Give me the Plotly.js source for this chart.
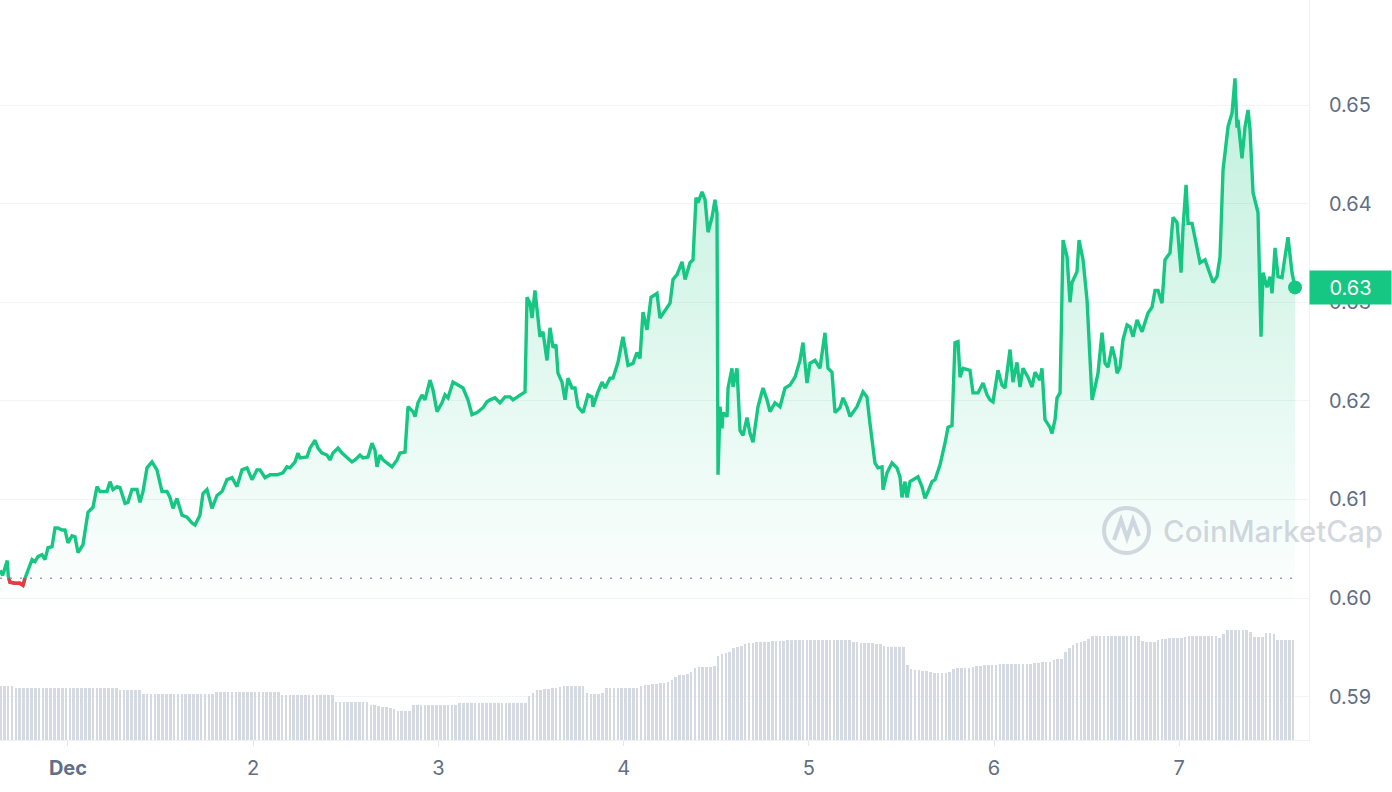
<!DOCTYPE html>
<html>
<head>
<meta charset="utf-8">
<script src="https://cdn.plot.ly/plotly-3.0.1.min.js"></script>
<style>html,body{margin:0;padding:0;background:#fff;}#chart{width:1392px;height:792px;}</style>
</head>
<body>
<div id="chart"></div>
<script>
// hours since 2022-12-01 00:00 (UTC)
const hours = [
-8.81,-8.46,-7.87,-7.74,-7.52,-6.87,-6.22,-5.83,-5.57,-5.18,
-4.66,-4.28,-3.89,-3.37,-2.98,-2.59,-2.07,-1.68,-1.30,-0.78,
-0.39,0,0.52,0.91,1.30,1.94,2.59,3.24,3.76,4.15,
5.05,5.44,5.83,6.35,6.74,7.39,7.77,8.29,8.94,9.33,
9.72,10.24,10.88,11.53,12.18,12.83,13.22,13.61,14.12,14.77,
15.42,16.07,16.46,17.10,17.49,18.01,18.66,19.31,19.96,20.60,
21.25,21.90,22.55,23.20,23.84,24.49,24.88,25.53,26.18,27.08,
27.86,28.38,28.77,29.42,29.80,30.06,30.97,31.36,32.01,32.40,
32.91,33.56,33.95,34.34,34.99,35.51,36.15,36.80,37.19,37.84,
38.23,38.87,39.39,39.78,40.04,40.43,40.82,41.34,41.98,42.63,
43.02,43.67,44.06,44.71,44.97,45.35,45.87,46.26,46.91,47.30,
47.82,48.46,48.85,49.24,49.89,50.54,51.19,51.83,52.35,53.00,
53.78,54.29,54.68,55.33,55.98,56.63,57.27,57.66,58.57,59.22,
59.48,59.87,60.13,60.51,60.90,61.16,61.55,62.07,62.46,62.85,
63.23,63.49,64.01,64.40,64.79,65.31,65.70,66.09,66.74,67.38,
67.90,68.03,68.68,69.20,69.59,70.23,70.62,71.27,71.79,71.92,
72.57,73.21,73.73,74.12,74.51,75.03,75.55,76.32,76.71,77.36,
78.01,78.40,78.92,79.57,79.96,80.60,80.99,81.38,81.64,82.16,
82.55,82.94,83.45,83.84,84.10,84.23,84.49,84.75,84.88,85.40,
85.53,86.04,86.17,86.69,87.08,87.47,87.99,88.38,88.76,89.41,
90.06,90.58,90.97,91.61,92.26,92.91,93.56,94.21,94.85,95.24,
95.76,96.15,96.80,97.44,98.09,98.48,99.00,99.39,100.04,100.43,
100.94,101.33,102.24,103.02,103.53,103.92,104.57,104.96,105.48,105.61,
106.13,106.77,107.42,107.81,108.07,108.46,108.72,109.11,109.50,110.14,
110.66,111.05,111.44,111.96,112.35,113.00,113.64,114.03,114.55,114.94,
115.33,115.59,115.98,116.88,117.27,117.92,118.57,119.09,119.47,119.86,
120.51,121.03,121.42,122.07,122.45,122.97,123.36,123.75,124.40,124.92,
125.30,125.95,126.21,126.60,127.25,127.51,127.90,128.16,128.55,128.94,
129.46,129.84,130.10,130.75,131.01,131.53,132.05,132.44,132.70,133.09,
133.47,133.99,134.38,134.77,135.29,135.68,135.94,136.32,136.71,137.23,
137.62,138.01,138.53,139.17,139.56,139.95,140.47,140.86,141.25,141.76,
142.15,142.80,143.19,143.71,144.23,144.49,144.88,145.14,145.66,146.30,
146.69,147.34,147.99,148.38,148.89,149.28,149.67,150.32,150.84,151.22,
151.48,151.61,152.13,152.52,152.91,153.17,153.56,154.07,154.20,154.59,
154.85,155.37,155.76,156.02,156.41,156.80,157.31,157.70,158.09,158.61,
159.00];

const prices = [
0.6028,0.6023,0.6038,0.6022,0.6016,0.6015,0.6015,0.6013,0.6020,0.6028,
0.6039,0.6037,0.6042,0.6044,0.6039,0.6051,0.6052,0.6071,0.6071,0.6069,
0.6069,0.6056,0.6063,0.6062,0.6046,0.6054,0.6087,0.6092,0.6113,0.6108,
0.6108,0.6118,0.6110,0.6113,0.6112,0.6096,0.6097,0.6110,0.6110,0.6097,
0.6108,0.6132,0.6138,0.6130,0.6108,0.6108,0.6102,0.6091,0.6101,0.6084,
0.6082,0.6076,0.6074,0.6084,0.6106,0.6110,0.6091,0.6104,0.6108,0.6120,
0.6122,0.6113,0.6130,0.6132,0.6120,0.6130,0.6130,0.6122,0.6125,0.6125,
0.6127,0.6133,0.6132,0.6138,0.6147,0.6142,0.6143,0.6152,0.6160,0.6152,
0.6147,0.6145,0.6140,0.6147,0.6152,0.6147,0.6142,0.6138,0.6140,0.6145,
0.6142,0.6143,0.6157,0.6150,0.6133,0.6145,0.6140,0.6137,0.6133,0.6140,
0.6147,0.6148,0.6194,0.6189,0.6184,0.6198,0.6206,0.6201,0.6221,0.6211,
0.6189,0.6198,0.6206,0.6203,0.6219,0.6216,0.6213,0.6201,0.6186,0.6188,
0.6193,0.6199,0.6201,0.6203,0.6198,0.6204,0.6204,0.6201,0.6206,0.6209,
0.6305,0.6299,0.6284,0.6312,0.6284,0.6265,0.6270,0.6241,0.6274,0.6254,
0.6257,0.6228,0.6219,0.6201,0.6223,0.6213,0.6213,0.6194,0.6188,0.6206,
0.6204,0.6194,0.6209,0.6219,0.6213,0.6223,0.6223,0.6239,0.6260,0.6265,
0.6236,0.6238,0.6249,0.6243,0.6290,0.6272,0.6305,0.6309,0.6284,0.6292,
0.6299,0.6323,0.6328,0.6341,0.6323,0.6340,0.6343,0.6406,0.6401,0.6412,
0.6404,0.6371,0.6386,0.6404,0.6390,0.6125,0.6194,0.6172,0.6188,0.6184,
0.6213,0.6233,0.6214,0.6233,0.6170,0.6165,0.6183,0.6167,0.6158,0.6194,
0.6213,0.6201,0.6189,0.6198,0.6194,0.6213,0.6216,0.6224,0.6241,0.6259,
0.6218,0.6238,0.6241,0.6233,0.6269,0.6233,0.6229,0.6188,0.6193,0.6203,
0.6194,0.6184,0.6194,0.6209,0.6204,0.6177,0.6137,0.6132,0.6133,0.6110,
0.6127,0.6137,0.6132,0.6123,0.6102,0.6118,0.6102,0.6118,0.6120,0.6123,
0.6113,0.6101,0.6108,0.6118,0.6120,0.6135,0.6157,0.6173,0.6175,0.6259,
0.6260,0.6224,0.6233,0.6231,0.6208,0.6208,0.6218,0.6206,0.6201,0.6199,
0.6231,0.6216,0.6213,0.6252,0.6219,0.6239,0.6214,0.6233,0.6224,0.6214,
0.6229,0.6221,0.6233,0.6181,0.6173,0.6167,0.6181,0.6203,0.6208,0.6363,
0.6346,0.6300,0.6320,0.6331,0.6363,0.6343,0.6302,0.6244,0.6201,0.6214,
0.6228,0.6269,0.6238,0.6234,0.6255,0.6243,0.6228,0.6234,0.6262,0.6277,
0.6275,0.6265,0.6282,0.6270,0.6279,0.6289,0.6295,0.6312,0.6312,0.6299,
0.6343,0.6350,0.6386,0.6381,0.6330,0.6376,0.6419,0.6380,0.6380,0.6356,
0.6340,0.6343,0.6330,0.6320,0.6326,0.6346,0.6434,0.6478,0.6492,0.6527,
0.6477,0.6485,0.6446,0.6478,0.6495,0.6475,0.6411,0.6394,0.6391,0.6265,
0.6330,0.6315,0.6326,0.6309,0.6355,0.6326,0.6325,0.6346,0.6366,0.6330,
0.6315];

// 24h volume (millions), one value per 30-minute bar starting at -8.75 h
const volStartHour = -8.75;
const volStepHour = 0.5;
const volumes = [
540,540,540,540,
520,520,520,520,520,520,520,520,520,520,520,520,520,520,520,520,520,520,520,520,520,520,520,520,520,520,520,
500,500,500,500,500,500,
460,460,460,460,460,460,460,460,460,460,460,460,460,460,460,460,460,460,460,
480,480,480,480,480,480,480,480,480,480,480,480,480,480,480,480,480,
450,450,450,450,450,450,450,450,450,450,450,450,450,450,
380,380,380,380,380,380,380,380,380,
350,350,340,330,330,320,310,
290,290,290,290,
350,350,350,350,350,350,350,350,350,350,350,350,
370,370,370,370,370,370,370,370,370,370,370,370,370,370,370,370,370,370,
440,470,
500,500,510,510,520,520,530,
540,540,540,540,540,540,
470,460,460,460,470,
520,520,520,520,520,520,520,520,520,
540,550,550,560,560,570,570,580,600,
630,650,650,660,680,
720,730,730,730,730,740,
840,860,870,880,
920,930,940,960,
970,970,980,980,980,980,990,990,990,990,
1000,1000,1000,1000,1000,1000,1000,1000,1000,1000,1000,1000,1000,1000,1000,1000,1000,
980,980,970,970,970,970,960,960,
940,930,930,930,930,
930,
750,
710,700,700,690,690,
680,670,670,670,670,680,
710,720,720,720,720,730,
740,740,750,750,750,750,760,760,760,760,760,760,760,760,760,770,770,
780,780,780,
800,810,810,
880,
920,950,970,980,990,
1010,
1040,1040,1040,1040,1040,1040,1040,1040,1040,1040,1040,1040,1040,
990,980,980,980,
1000,1010,1010,1020,1020,1020,1020,1030,
1040,1040,1040,1040,1040,1040,1040,1040,
1020,
1060,
1100,1100,1100,1100,1100,1100,
1080,
1030,1030,1030,
1070,1070,1060,
1000,1000,1000,1000,1000];

const refPrice = 0.6020;
const yTicks = [0.59, 0.60, 0.61, 0.62, 0.63, 0.64, 0.65];
const xTickDays = [0, 1, 2, 3, 4, 5, 6];
const xTickLabels = ['<b>Dec</b>', '2', '3', '4', '5', '6', '7'];
const lastLabel = '0.63';

const BASE = Date.UTC(2022, 11, 1);
function d(h) { return new Date(BASE + h * 3600e3).toISOString().replace('T', ' ').slice(0, 19); }

const xs = hours.map(d);
const volX = volumes.map((v, k) => d(volStartHour + k * volStepHour));

// red segment (below reference price), with interpolated crossings
const rx = [], ry = [];
for (let i = 0; i < prices.length; i++) {
  const below = prices[i] < refPrice;
  if (i > 0) {
    const pb = prices[i - 1] < refPrice;
    if (pb !== below) {
      const f = (refPrice - prices[i - 1]) / (prices[i] - prices[i - 1]);
      const hc = hours[i - 1] + f * (hours[i] - hours[i - 1]);
      rx.push(d(hc)); ry.push(refPrice);
      if (!below) { rx.push(null); ry.push(null); }
    }
  }
  if (below) { rx.push(xs[i]); ry.push(prices[i]); }
}

const GREEN = '#16c784';
const RED = '#ea3943';
const TXT = '#616e85';
const FONT = 'Inter, "Noto Sans", sans-serif';

const traces = [
  {
    x: xs, y: prices, type: 'scatter', mode: 'lines',
    line: { color: GREEN, width: 3.4 },
    fill: 'tozeroy',
    fillgradient: { type: 'vertical', start: 0.598, stop: 0.653,
      colorscale: [[0, 'rgba(22,199,132,0)'], [1, 'rgba(22,199,132,0.27)']] },
    hoverinfo: 'skip'
  },
  {
    x: rx, y: ry, type: 'scatter', mode: 'lines',
    line: { color: RED, width: 3.4 }, connectgaps: false, hoverinfo: 'skip'
  },
  {
    x: [xs[xs.length - 1]], y: [prices[prices.length - 1]], type: 'scatter', mode: 'markers',
    marker: { color: GREEN, size: 14 }, hoverinfo: 'skip'
  },
  {
    x: volX, y: volumes, type: 'bar', yaxis: 'y2',
    width: volStepHour * 3600e3 * 0.68,
    marker: { color: '#d4d9e2', line: { width: 0 } }, hoverinfo: 'skip'
  }
];

const layout = {
  width: 1392, height: 792,
  margin: { l: 0, r: 83, t: 0, b: 52 },
  paper_bgcolor: '#fff', plot_bgcolor: '#fff',
  showlegend: false, hovermode: false,
  font: { family: FONT, color: TXT },
  xaxis: {
    type: 'date',
    range: [d(-8.81), d(160.81)],
    tickvals: xTickDays.map(v => d(v * 24)),
    ticktext: xTickLabels,
    showgrid: false, zeroline: false,
    ticks: 'outside', ticklen: 5, tickcolor: '#e3e6eb', tickwidth: 1,
    showline: true, linecolor: '#eff2f5', linewidth: 1,
    tickfont: { family: FONT, size: 20, color: TXT },
    ticklabelstandoff: 5,
    fixedrange: true
  },
  yaxis: {
    side: 'right',
    range: [0.5856, 0.66065],
    tickvals: yTicks,
    ticktext: yTicks.map(v => v.toFixed(2)),
    showgrid: true, gridcolor: '#f3f4f6', gridwidth: 1,
    zeroline: false,
    showline: true, linecolor: '#eff2f5', linewidth: 1,
    ticks: '', ticklabelstandoff: 15,
    tickfont: { family: FONT, size: 20, color: TXT },
    fixedrange: true
  },
  yaxis2: {
    overlaying: 'y', range: [0, 7400], visible: false, fixedrange: true
  },
  bargap: 0,
  shapes: [
    { type: 'line', xref: 'x', yref: 'y', x0: xs[0], x1: xs[xs.length - 1], y0: refPrice, y1: refPrice,
      line: { color: '#9aa2b1', width: 1.5, dash: '2px,8px' } },
    { type: 'circle', xref: 'paper', yref: 'paper', x0: 1104 / 1309, x1: 1149 / 1309,
      y0: (740 - 553) / 740, y1: (740 - 508) / 740,
      line: { color: 'rgba(150,160,180,0.4)', width: 4 } },
    { type: 'path', xref: 'paper', yref: 'paper',
      path: 'M ' + (1114 / 1309) + ',' + ((740 - 540) / 740) +
            ' L ' + (1121 / 1309) + ',' + ((740 - 520) / 740) +
            ' L ' + (1127 / 1309) + ',' + ((740 - 538) / 740) +
            ' L ' + (1133 / 1309) + ',' + ((740 - 520) / 740) +
            ' L ' + (1139 / 1309) + ',' + ((740 - 536) / 740),
      line: { color: 'rgba(150,160,180,0.4)', width: 4 } }
  ],
  annotations: [
    { xref: 'paper', yref: 'paper', x: 1161 / 1309, y: (740 - 531) / 740, xanchor: 'left', yanchor: 'middle',
      text: 'CoinMarketCap', showarrow: false,
      font: { family: FONT, size: 29.5, color: 'rgba(150,160,180,0.42)', weight: 500 } },
    { xref: 'paper', yref: 'y', x: 1, y: prices[prices.length - 1], xanchor: 'left', yanchor: 'middle',
      text: lastLabel, showarrow: false, bgcolor: GREEN, borderpad: 2, width: 77, height: 29,
      font: { family: FONT, size: 20, color: '#ffffff' } }
  ]
};

Plotly.newPlot('chart', traces, layout, { staticPlot: true, displayModeBar: false });
</script>
</body>
</html>
